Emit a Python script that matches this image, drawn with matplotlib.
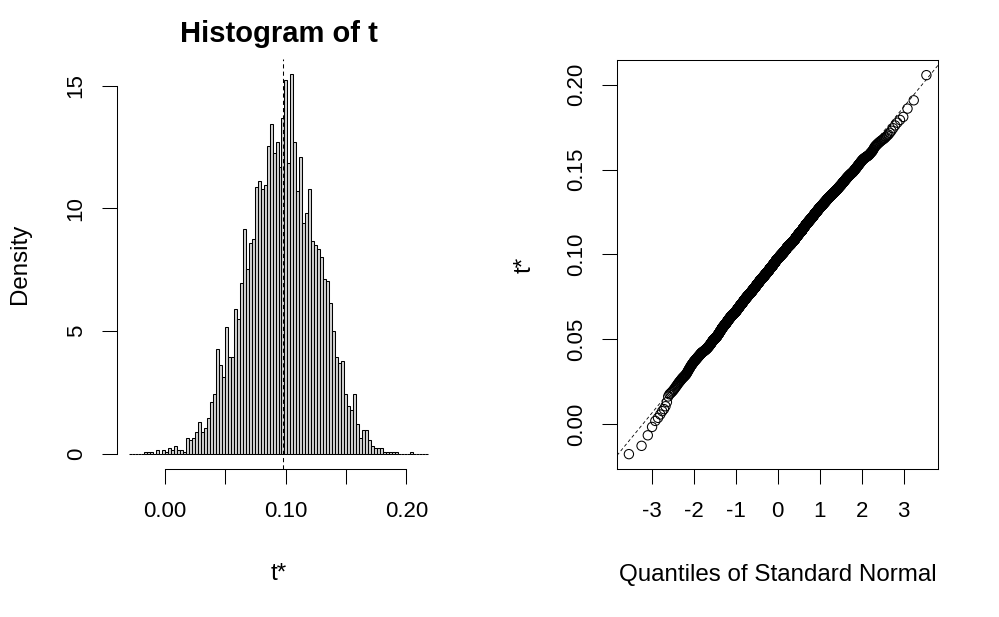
import statistics
import numpy as np
import matplotlib
matplotlib.use("Agg")
import matplotlib.pyplot as plt

plt.rcParams['font.family'] = ['Liberation Sans', 'DejaVu Sans']
plt.rcParams['axes.unicode_minus'] = False

# bootstrap histogram: 100 equal bins, counts
bin_lo = -0.0300
bin_hi = 0.2180
counts = [0, 0, 0, 0, 0, 1, 1, 1, 0, 2,
          0, 2, 1, 3, 2, 4, 2, 2, 1, 8,
          7, 8, 11, 16, 11, 13, 18, 26, 30, 52,
          44, 38, 63, 48, 48, 72, 67, 85, 112, 92,
          105, 107, 133, 136, 132, 134, 153, 164, 150, 155,
          143, 167, 186, 145, 189, 155, 131, 148, 115, 120,
          132, 106, 104, 102, 98, 87, 86, 75, 61, 48,
          45, 46, 30, 24, 22, 30, 15, 8, 12, 12,
          7, 4, 3, 3, 3, 1, 1, 1, 1, 1,
          0, 0, 0, 0, 1, 0, 0, 0, 0, 0]
t0 = 0.098
n_boot = 2500

hist_xticks = [0.00, 0.05, 0.10, 0.15, 0.20]
hist_xlabels = ["0.00", "", "0.10", "", "0.20"]
hist_yticks = [0, 5, 10, 15]
qq_xticks = [-3, -2, -1, 0, 1, 2, 3]
qq_yticks = [0.00, 0.05, 0.10, 0.15, 0.20]

counts = np.array(counts, dtype=float)
edges = np.linspace(bin_lo, bin_hi, len(counts) + 1)
width = edges[1] - edges[0]
density = counts / (counts.sum() * width)

# quantiles of t* for the normal plot, from the same distribution
cdf = np.concatenate([[0.0], np.cumsum(counts)]) / counts.sum()
padded = np.concatenate([[0.0], counts, [0.0]])
keep = (padded[:-1] > 0) | (padded[1:] > 0)
ranks = np.arange(1, n_boot + 1)
tstar = np.interp((ranks - 1) / (n_boot - 1), cdf[keep], edges[keep])
nd = statistics.NormalDist()
q = np.array([nd.inv_cdf(v) for v in (ranks - 0.5) / n_boot])

fig = plt.figure(figsize=(9.99, 6.17), dpi=100)
ax1 = fig.add_axes([117 / 999, 1 - 469 / 617, 323 / 999, 410 / 617])
ax2 = fig.add_axes([617 / 999, 1 - 469.3 / 617, 321.3 / 999, 409.3 / 617])

# histogram
ax1.bar(edges[:-1], density, width=width, align='edge', color='#d3d3d3',
        edgecolor='black', linewidth=0.75)
ax1.axvline(t0, color='black', linewidth=0.75, linestyle=(0, (4, 3)))
span = bin_hi - bin_lo
ax1.set_xlim(bin_lo - 0.04 * span, bin_hi + 0.04 * span)
ymax = density.max()
ax1.set_ylim(-0.04 * ymax, 1.04 * ymax)
ax1.spines['top'].set_visible(False)
ax1.spines['right'].set_visible(False)
ax1.spines['left'].set_bounds(0, 15)
ax1.spines['bottom'].set_bounds(0, 0.2)
ax1.set_xticks(hist_xticks)
ax1.set_xticklabels(hist_xlabels)
ax1.set_yticks(hist_yticks)
ax1.set_title('Histogram of t', fontsize=21, fontweight='bold', pad=12.5)
ax1.set_xlabel('t*', fontsize=17.4, labelpad=30)
ax1.set_ylabel('Density', fontsize=17.4, labelpad=25)

# normal quantile plot
ax2.scatter(q, tstar, s=45, facecolors='none', edgecolors='black', linewidths=0.75)
ax2.axline((0, tstar.mean()), slope=tstar.std(ddof=1), color='black',
           linewidth=0.6, linestyle=(0, (4, 3)))
qs = q.max() - q.min()
ax2.set_xlim(q.min() - 0.04 * qs, q.max() + 0.04 * qs)
ts = tstar.max() - tstar.min()
ax2.set_ylim(tstar.min() - 0.04 * ts, tstar.max() + 0.04 * ts)
ax2.set_xticks(qq_xticks)
ax2.set_yticks(qq_yticks)
ax2.set_yticklabels([f"{v:.2f}" for v in qq_yticks])
ax2.set_xlabel('Quantiles of Standard Normal', fontsize=17.4, labelpad=30)
ax2.set_ylabel('t*', fontsize=17.4, labelpad=22)

for ax in (ax1, ax2):
    for s in ax.spines.values():
        s.set_linewidth(0.75)
    ax.tick_params(direction='out', length=10.8, width=0.75, labelsize=16)
    ax.tick_params(axis='x', pad=12)
    ax.tick_params(axis='y', pad=11)
    for lbl in ax.get_yticklabels():
        lbl.set_rotation(90)
        lbl.set_va('center')

fig.savefig('out.png', dpi=100)
plt.close()
